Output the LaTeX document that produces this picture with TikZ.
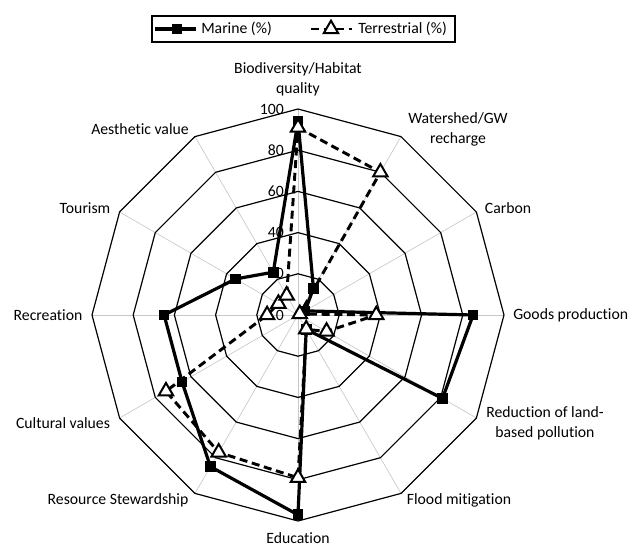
\documentclass[tikz,border=0pt]{standalone}
\usepackage{fontspec}
\setmainfont{Carlito}[Ligatures=NoCommon]
\usepackage{tikz}
\usetikzlibrary{shapes.geometric}
\definecolor{gridgray}{HTML}{C8C8C8}

\begin{document}
\begin{tikzpicture}[x=0.75pt,y=0.75pt,
		spoke/.style={draw=gridgray,line width=0.5pt},
		ring/.style={draw=black,line width=0.9pt},
		marine/.style={line width=2.4pt,line join=round},
		terr/.style={line width=2.2pt,dash pattern=on 6pt off 3.5pt,line join=round},
		msq/.style={fill=black,minimum size=8pt,inner sep=0pt},
		ttri/.style={regular polygon,regular polygon sides=3,draw=black,fill=white,line width=1.5pt,minimum size=12.5pt,inner sep=0pt},
		lbl/.style={font=\fontsize{11.8}{15}\selectfont,align=center,inner sep=0pt},
		tick/.style={font=\fontsize{11.8}{13}\selectfont,anchor=east,inner sep=0pt}]
	\useasboundingbox (-298,-232) rectangle (335,315);
	\foreach \a in {0,30,...,330}
		\draw[spoke] (0,0) -- (\a:206);
	\foreach \r in {20,40,...,100}
		\draw[ring] (90:{\r*2.06}) \foreach \a in {60,30,...,-240} { -- (\a:{\r*2.06}) } -- cycle;
	\foreach \v in {0,20,...,100}
		\node[tick] (tk\v) at (-14,{\v*2.06}) {\v};
	
	\node[lbl] (biodiv) at (0,235.5) {Biodiversity/Habitat\\quality};
	\node[lbl] (watershed) at (160,186) {Watershed/GW\\recharge};
	\node[lbl] (carbon) at (210,107) {Carbon};
	\node[lbl,anchor=west] (goods) at (215,0) {Goods production};
	\node[lbl] (pollution) at (247,-108) {Reduction of land-\\based pollution};
	\node[lbl] (flood) at (161,-185) {Flood mitigation};
	\node[lbl,anchor=base] (education) at (0,-228) {Education};
	\node[lbl] (steward) at (-180,-185) {Resource Stewardship};
	\node[lbl] (cultural) at (-235,-108) {Cultural values};
	\node[lbl] (recreation) at (-250,0) {Recreation};
	\node[lbl] (tourism) at (-213,107) {Tourism};
	\node[lbl] (aesthetic) at (-158,186) {Aesthetic value};
	
	\foreach \v [count=\i] in {94,15,4,85,81,8,97,85,65,65,35,24}
		\coordinate (m\i) at ({90-30*(\i-1)}:{\v*2.06});
	\foreach \v [count=\i] in {91,80,1,38,16,8,79,77,74,15,11,11}
		\coordinate (t\i) at ({90-30*(\i-1)}:{\v*2.06});
	\draw[marine] (m1) \foreach \i in {2,...,12} { -- (m\i) } -- cycle;
	\foreach \i in {1,...,12}
		\node[msq] (ms\i) at (m\i) {};
	\draw[terr] (t1) \foreach \i in {2,...,12} { -- (t\i) } -- cycle;
	\foreach \i in {1,...,12}
		\node[ttri] (tt\i) at (t\i) {};
	
	\node[draw=black,line width=0.8pt,minimum width=303*0.75pt,minimum height=26*0.75pt,inner sep=0pt] (legend) at (5.5,286) {};
	\coordinate (lm1) at (-143,286);
	\coordinate (lm2) at (-102,286);
	\coordinate (lt1) at (13,286);
	\coordinate (lt2) at (54,286);
	\draw[marine] (lm1) -- (lm2);
	\node[msq] (lmsq) at (-121,286) {};
	\node[lbl,anchor=west] (lmtext) at (-97,286) {Marine (\%)};
	\draw[terr] (lt1) -- (lt2);
	\node[ttri] (lttri) at (33,286) {};
	\node[lbl,anchor=west] (lttext) at (60,286) {Terrestrial (\%)};
\end{tikzpicture}
\end{document}
